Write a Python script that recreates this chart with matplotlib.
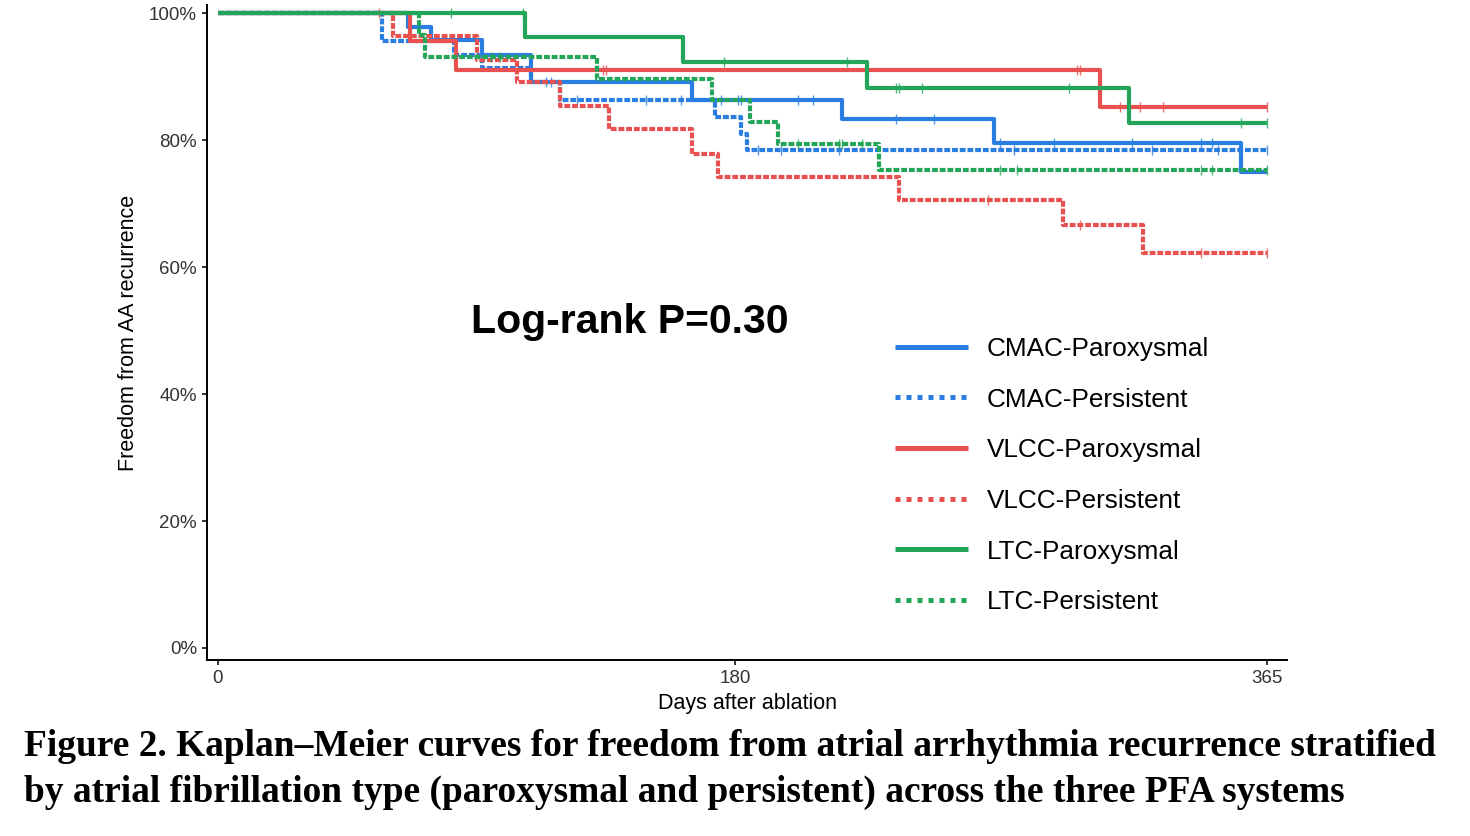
import numpy as np
import matplotlib
matplotlib.use('Agg')
import matplotlib.pyplot as plt
from matplotlib.lines import Line2D

plt.rcParams['font.family'] = ['Liberation Sans', 'DejaVu Sans']

# Kaplan-Meier steps (days, survival %)
cmac_par_t = [66, 74, 92, 109, 165, 217, 270, 356]
cmac_par_s = [97.8, 95.8, 93.4, 89.2, 86.3, 83.3, 79.6, 75.0]
cmac_par_cens = [114, 116, 175, 181, 182, 202, 207, 236, 249, 272, 291, 318, 342, 346]

cmac_per_t = [57, 82, 92, 109, 119, 173, 182, 184]
cmac_per_s = [95.6, 93.4, 91.3, 89.2, 86.4, 83.7, 81.0, 78.4]
cmac_per_cens = [125, 149, 161, 188, 196, 216, 277, 325, 348, 365]

vlcc_par_t = [67, 83, 307]
vlcc_par_s = [95.6, 91.0, 85.2]
vlcc_par_cens = [56, 134, 135, 299, 300, 314, 321, 329, 365]

vlcc_per_t = [61, 90, 104, 119, 136, 165, 174, 237, 294, 322]
vlcc_per_s = [96.4, 92.7, 89.2, 85.4, 81.7, 77.9, 74.2, 70.5, 66.6, 62.2]
vlcc_per_cens = [268, 300, 342, 365]

ltc_par_t = [107, 162, 226, 317]
ltc_par_s = [96.3, 92.3, 88.2, 82.7]
ltc_par_cens = [81, 106, 176, 219, 236, 237, 245, 296, 356, 365]

ltc_per_t = [70, 72, 132, 172, 185, 195, 230]
ltc_per_s = [96.6, 93.1, 89.7, 86.4, 82.9, 79.4, 75.3]
ltc_per_cens = [95, 98, 202, 216, 217, 224, 272, 278, 342, 346, 365]

labels = ['CMAC-Paroxysmal', 'CMAC-Persistent', 'VLCC-Paroxysmal',
          'VLCC-Persistent', 'LTC-Paroxysmal', 'LTC-Persistent']
x_ticks = [0, 180, 365]
y_ticks = [0, 20, 40, 60, 80, 100]
end_day = 365

blue = '#2A7DE1'
red = '#E8514F'
green = '#23A659'

curves = [
    (cmac_par_t, cmac_par_s, cmac_par_cens, blue, '-'),
    (cmac_per_t, cmac_per_s, cmac_per_cens, blue, '--'),
    (vlcc_par_t, vlcc_par_s, vlcc_par_cens, red, '-'),
    (vlcc_per_t, vlcc_per_s, vlcc_per_cens, red, '--'),
    (ltc_par_t, ltc_par_s, ltc_par_cens, green, '-'),
    (ltc_per_t, ltc_per_s, ltc_per_cens, green, '--'),
]

fig = plt.figure(figsize=(14.7, 8.36), dpi=100)
ax = fig.add_axes([207/1470, 1-660/836, (1287-207)/1470, (660-5)/836])

lw = 3.0
for t, s, cens, col, ls in curves:
    tt = np.array([0] + t + [end_day], dtype=float)
    ss = np.array([100] + s + [s[-1]], dtype=float)
    line, = ax.step(tt, ss, where='post', color=col, lw=lw,
                    solid_capstyle='butt', dash_capstyle='butt')
    if ls == '--':
        line.set_dashes([1.4, 0.45])
    # censor marks sit on the curve
    idx = np.searchsorted(tt, cens, side='right') - 1
    ax.plot(cens, ss[idx], ls='none', marker='|', ms=7, mew=1.0,
            color=col, alpha=0.8)

ax.set_xlim(-3.8, 372)
ax.set_ylim(-1.9, 101.3)
ax.set_xticks(x_ticks)
ax.set_yticks(y_ticks)
ax.set_yticklabels([f'{v}%' for v in y_ticks])
for sp in ['top', 'right']:
    ax.spines[sp].set_visible(False)
for sp in ['left', 'bottom']:
    ax.spines[sp].set_linewidth(1.4)
ax.tick_params(width=1.1, length=3.6, pad=3.6, labelsize=13.5, labelcolor='#333333')
ax.set_xlabel('Days after ablation', fontsize=15.5, labelpad=4)
ax.set_ylabel('Freedom from AA recurrence', fontsize=15.5, labelpad=7)

ax.text(88, 51.4, 'Log-rank P=0.30', fontsize=29.5, fontweight='bold',
        ha='left', va='center')

# legend
handles = []
for i, (t, s, cens, col, ls) in enumerate(curves):
    h = Line2D([0], [0], color=col, lw=3.6, solid_capstyle='butt',
               dash_capstyle='butt')
    if ls == '--':
        h.set_dashes([1.0, 1.2])
    handles.append(h)
fig.legend(handles, labels, loc='upper left',
           bbox_to_anchor=(895/1470, 1-337/836), frameon=False,
           fontsize=18.8, handlelength=2.8, handletextpad=0.72,
           labelspacing=1.02, borderpad=0, borderaxespad=0)

cap_kw = dict(family=['Liberation Serif', 'DejaVu Serif'], fontweight='bold',
              fontsize=26.9, ha='left', va='center')
fig.text(24/1470, 1-746/836,
         'Figure 2. Kaplan\u2013Meier curves for freedom from atrial arrhythmia recurrence stratified',
         **cap_kw)
fig.text(24/1470, 1-792/836,
         'by atrial fibrillation type (paroxysmal and persistent) across the three PFA systems',
         **cap_kw)

fig.savefig('out.png', dpi=100)
